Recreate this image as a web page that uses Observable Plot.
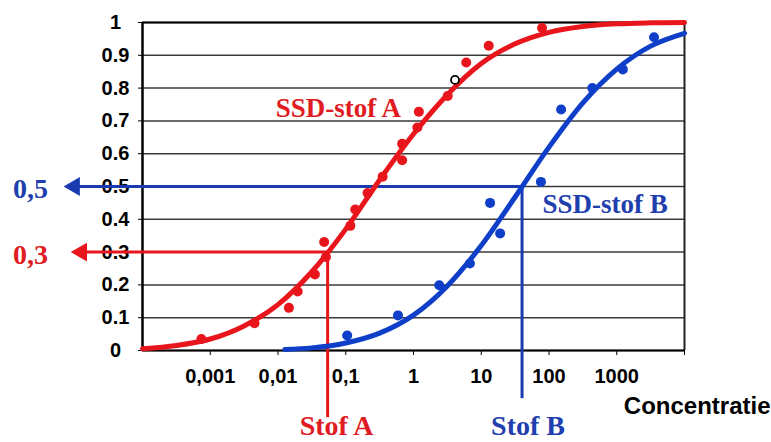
<!DOCTYPE html>
<html><head><meta charset="utf-8">
<script src="https://cdn.jsdelivr.net/npm/d3@7"></script>
<script src="https://cdn.jsdelivr.net/npm/@observablehq/plot@0.6"></script>
<style>body{margin:0;background:#fff} svg{display:block}</style>
</head><body><div id="chart"></div>
<script>
// axis ticks and labels
const xTicks = [0.001, 0.01, 0.1, 1, 10, 100, 1000, 10000];
const xTickLabels = ["0,001", "0,01", "0,1", "1", "10", "100", "1000", ""];
const yTicks = [0, 0.1, 0.2, 0.3, 0.4, 0.5, 0.6, 0.7, 0.8, 0.9, 1];
const yTickLabels = ["0", "0.1", "0.2", "0.3", "0.4", "0.5", "0.6", "0.7", "0.8", "0.9", "1"];

// SSD stof A: observed points (concentration, fraction)
const redConc = [0.00074, 0.0045, 0.0145, 0.0195, 0.035, 0.048, 0.051, 0.117, 0.138, 0.21, 0.35, 0.68, 0.68, 1.14, 1.2, 3.2, 6.0, 12.9, 79];
const redFrac = [0.035, 0.083, 0.13, 0.18, 0.232, 0.331, 0.285, 0.38, 0.43, 0.48, 0.53, 0.58, 0.63, 0.68, 0.728, 0.776, 0.878, 0.929, 0.983];
const openConc = [4.1];
const openFrac = [0.825];
// SSD stof A: fitted curve
const redCurveConc = [0.0001, 0.000316, 0.001, 0.00316, 0.01, 0.0316, 0.1, 0.316, 1, 3.16, 10, 31.6, 100, 316, 1000, 3162, 10000];
const redCurveFrac = [0.005, 0.015, 0.035, 0.075, 0.14, 0.24, 0.37, 0.52, 0.66, 0.78, 0.875, 0.935, 0.97, 0.988, 0.996, 0.999, 1.0];

// SSD stof B: observed points
const blueConc = [0.105, 0.59, 2.4, 6.8, 13.5, 19, 76, 151, 436, 1230, 3550];
const blueFrac = [0.046, 0.107, 0.199, 0.265, 0.45, 0.357, 0.514, 0.735, 0.80, 0.857, 0.955];
// SSD stof B: fitted curve
const blueCurveConc = [0.0126, 0.0316, 0.1, 0.316, 1, 3.16, 10, 31.6, 100, 316, 1000, 3162, 10000];
const blueCurveFrac = [0.003, 0.008, 0.023, 0.053, 0.108, 0.197, 0.32, 0.468, 0.62, 0.755, 0.858, 0.928, 0.967];

// annotations
const stofNames = ["Stof A", "Stof B"];
const stofConc = [0.054, 40];
const stofFrac = [0.3, 0.5];
const stofFracLabels = ["0,3", "0,5"];
const ssdNames = ["SSD-stof A", "SSD-stof B"];

const RED = "#e8161c", BLUE = "#0f3fc8", BLUE2 = "#1a3bb0", RED_TXT = "#e01b22", BLUE_TXT = "#1f3fae";
const colors = [RED, BLUE2];
const txtColors = [RED_TXT, BLUE_TXT];

const pts = (c, f) => c.map((x, i) => ({x, y: f[i]}));
const redPts = pts(redConc, redFrac), bluePts = pts(blueConc, blueFrac), openPts = pts(openConc, openFrac);
const redCurve = pts(redCurveConc, redCurveFrac), blueCurve = pts(blueCurveConc, blueCurveFrac);
const stof = stofNames.map((n, i) => ({name: n, conc: stofConc[i], frac: stofFrac[i], label: stofFracLabels[i], i}));
const arrowTip = [1.26e-5, 9.9e-6];
const ruleEnd = [-0.205, -0.147];
const ssdPos = [{x: 0.078, y: 0.712}, {x: 676, y: 0.419}];
const ssd = ssdNames.map((n, i) => ({name: n, ...ssdPos[i], i}));

const serif = "'Liberation Serif', 'Times New Roman', serif";

const chart = Plot.plot({
  width: 771, height: 442,
  marginLeft: 142, marginRight: 87, marginTop: 22, marginBottom: 92,
  style: {fontFamily: "'Liberation Sans', Arial, sans-serif", fontWeight: "bold", fontSize: "20px", background: "#fff", overflow: "visible", color: "#000"},
  x: {type: "log", domain: [1e-4, 1e4]},
  y: {domain: [0, 1]},
  marks: [
    Plot.gridY({ticks: yTicks, stroke: "#3a3a3a", strokeOpacity: 1, strokeWidth: 1.5}),
    Plot.axisY({ticks: yTicks, tickFormat: d => yTickLabels[yTicks.indexOf(d)], tickSize: 4, tickPadding: 23, textAnchor: "middle", fontSize: 20, fontWeight: "bold"}),
    Plot.axisX({ticks: xTicks, tickFormat: d => xTickLabels[xTicks.indexOf(d)], tickSize: 5, tickPadding: 13, fontSize: 20, fontWeight: "bold"}),
    Plot.ruleX([1e4], {stroke: "#222", strokeWidth: 2}),
    Plot.ruleY([0, 1], {stroke: "#000", strokeWidth: 2.2}),
    Plot.ruleX([1e-4], {stroke: "#000", strokeWidth: 2.5}),
    // arrows and drop lines
    Plot.ruleY(stof, {y: "frac", x1: "conc", x2: d => arrowTip[d.i], stroke: d => colors[d.i], strokeWidth: 3}),
    Plot.ruleX(stof, {x: "conc", y1: "frac", y2: d => ruleEnd[d.i], stroke: d => colors[d.i], strokeWidth: 3}),
    Plot.dot(stof, {x: d => arrowTip[d.i], y: "frac", symbol: "triangle", r: 7, rotate: -90, fill: d => colors[d.i], stroke: "none"}),
    // curves
    Plot.line(redCurve, {x: "x", y: "y", stroke: RED, strokeWidth: 5, curve: "monotone-x"}),
    Plot.line(blueCurve, {x: "x", y: "y", stroke: BLUE, strokeWidth: 5, curve: "monotone-x"}),
    Plot.dot(redPts, {x: "x", y: "y", r: 5, fill: RED}),
    Plot.dot(bluePts, {x: "x", y: "y", r: 5, fill: BLUE}),
    Plot.dot(openPts, {x: "x", y: "y", r: 4, fill: "#fff", stroke: "#000", strokeWidth: 1.8}),
    // labels
    Plot.text(stof, {frameAnchor: "left", y: "frac", text: "label", dx: -112, dy: 3, textAnchor: "middle", fill: d => txtColors[d.i], fontFamily: serif, fontWeight: "bold", fontSize: 28}),
    Plot.text(ssd, {x: "x", y: "y", text: "name", textAnchor: "middle", lineAnchor: "bottom", fill: d => txtColors[d.i], fontFamily: serif, fontWeight: "bold", fontSize: 27}),
    Plot.text(stof.filter(d => d.i === 0), {x: "conc", frameAnchor: "bottom", text: "name", dx: 9, dy: 84, lineAnchor: "bottom", fill: RED_TXT, fontFamily: serif, fontWeight: "bold", fontSize: 28}),
    Plot.text(stof.filter(d => d.i === 1), {x: "conc", frameAnchor: "bottom", text: "name", dx: 6, dy: 84, lineAnchor: "bottom", fill: BLUE_TXT, fontFamily: serif, fontWeight: "bold", fontSize: 28}),
    Plot.text(["Concentratie"], {frameAnchor: "bottom-right", text: d => d, dx: 86, dy: 63, textAnchor: "end", lineAnchor: "bottom", fill: "#000", fontSize: 24, fontWeight: "bold"})
  ]
});
document.getElementById("chart").appendChild(chart);
</script>
</body></html>
